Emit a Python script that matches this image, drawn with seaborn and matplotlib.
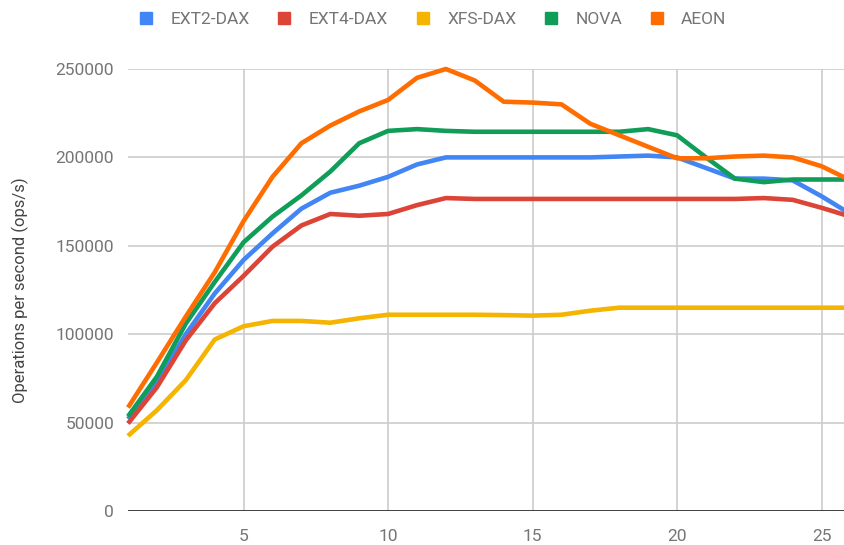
import pandas as pd
import matplotlib.pyplot as plt
import seaborn as sns
from matplotlib.lines import Line2D

# x values (thread count) and throughput
threads = list(range(1, 27))

ext2_dax = [52000, 73000, 100000, 123000, 142000, 157000, 171000, 180000, 184000, 189000,
            196000, 200000, 200000, 200000, 200000, 200000, 200000, 200500, 201000, 200000,
            194000, 188000, 188000, 187000, 178000, 168000]
ext4_dax = [49500, 70000, 96500, 117500, 133000, 149500, 161500, 168000, 167000, 168000,
            173000, 177000, 176500, 176500, 176500, 176500, 176500, 176500, 176500, 176500,
            176500, 176500, 177000, 176000, 171500, 166500]
xfs_dax = [42500, 57000, 74000, 97000, 104500, 107500, 107500, 106500, 109000, 111000,
           111000, 111000, 111000, 110800, 110500, 111000, 113300, 115000, 115000, 115000,
           115000, 115000, 115000, 115000, 115000, 115000]
nova = [53500, 76000, 106000, 129500, 152000, 166500, 178500, 192000, 208000, 215000,
        216000, 215000, 214500, 214500, 214500, 214500, 214500, 214500, 216000, 212500,
        200000, 188000, 186000, 187500, 187500, 187500]
aeon = [58500, 84000, 110000, 135000, 164000, 189000, 208000, 218000, 226000, 232500,
        245000, 250000, 243500, 231500, 231000, 230000, 219000, 212500, 206000, 199500,
        199500, 200500, 201000, 200000, 195000, 187000]

names = ["EXT2-DAX", "EXT4-DAX", "XFS-DAX", "NOVA", "AEON"]
colors = ["#4285F4", "#DB4437", "#F4B400", "#0F9D58", "#FF6D01"]

frames = []
for name, vals in zip(names, [ext2_dax, ext4_dax, xfs_dax, nova, aeon]):
    frames.append(pd.DataFrame({"threads": threads, "ops": vals, "fs": name}))
df = pd.concat(frames)

sns.set_style("white")
plt.rcParams["font.family"] = ["Roboto", "DejaVu Sans"]

fig = plt.figure(figsize=(8.45, 5.45), dpi=100)
ax = fig.add_axes([128 / 845, 1 - 511 / 545, 1 - 128 / 845, (511 - 69) / 545])

sns.lineplot(data=df, x="threads", y="ops", hue="fs", palette=colors,
             linewidth=3.3, estimator=None, sort=False, legend=False, ax=ax)
for ln in ax.get_lines():
    ln.set_clip_on(False)
    ln.set_solid_capstyle("butt")
    ln.set_solid_joinstyle("round")

ax.set_xlim(1, 1 + (845 - 128) / 28.9)
ax.set_ylim(0, 250000)
ax.set_xticks([5, 10, 15, 20, 25])
ax.set_yticks([0, 50000, 100000, 150000, 200000, 250000])
ax.grid(True, color="#cccccc", linewidth=1.2)
ax.set_axisbelow(True)
for s in ["top", "right", "left", "bottom"]:
    ax.spines[s].set_visible(False)
ax.axhline(0, color="#333333", linewidth=2, zorder=1)

ax.tick_params(axis="both", length=0, labelsize=12.5, colors="#757575")
ax.tick_params(axis="y", pad=10)
ax.tick_params(axis="x", pad=13)
ax.set_xlabel("")
ax.set_ylabel("Operations per second (ops/s)", fontsize=12, color="#444444", labelpad=19)

handles = [Line2D([], [], marker="s", linestyle="none", markersize=9,
                  markerfacecolor=c, markeredgecolor=c) for c in colors]
fig.legend(handles, names, loc="center", bbox_to_anchor=(0.506, 0.965), ncol=5,
           frameon=False, fontsize=12.5, labelcolor="#757575",
           handletextpad=0.4, columnspacing=1.0)

plt.savefig("out.png", dpi=100)
